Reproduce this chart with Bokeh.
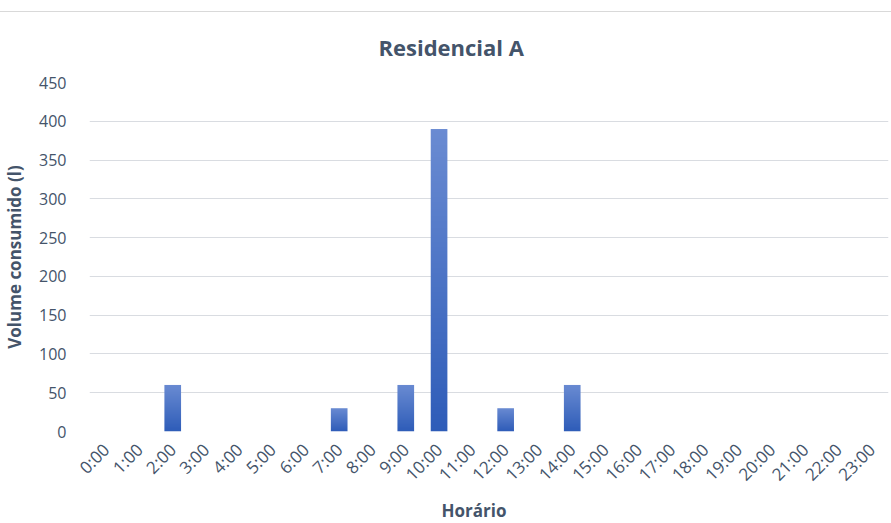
from math import pi

import numpy as np
from bokeh.embed import file_html
from bokeh.models import FactorRange, Range1d, FixedTicker, Title
from bokeh.plotting import figure
from bokeh.resources import INLINE

# Hourly water consumption, residence A
hours = [f"{h}:00" for h in range(24)]
volumes = [0, 0, 60, 0, 0, 0, 0, 30, 0, 60, 390, 0, 30, 0, 60,
           0, 0, 0, 0, 0, 0, 0, 0, 0]
y_ticks = [0, 50, 100, 150, 200, 250, 300, 350, 400, 450]

TEXT = "#44546A"
GRID = "#D9DCE1"
FONT = "Open Sans"
BAR_WIDTH = 0.5

p = figure(
    width=891, height=511,
    x_range=FactorRange(*hours, range_padding=0),
    y_range=Range1d(0, 450),
    output_backend="svg", toolbar_location=None,
    min_border_left=85, min_border_right=3, min_border_top=70, min_border_bottom=92,
    styles={"border-top": "1px solid #D9D9D9", "margin-top": "11px"},
)

# Vertical gradient (dark at the base, light at the top) as a one-pixel-wide
# RGBA image, stretched over each bar's extent
M = 128
dark = np.array([0x2E, 0x5C, 0xB8], dtype=float)
light = np.array([0x6A, 0x8B, 0xD2], dtype=float)
t = (np.arange(M) + 0.5) / M
rgb = np.round(dark[None, :] + (light - dark)[None, :] * t[:, None]).astype(np.uint32)
grad = (rgb[:, 0] | (rgb[:, 1] << 8) | (rgb[:, 2] << 16) | (255 << 24)).reshape(M, 1)

bar_idx = [i for i, v in enumerate(volumes) if v > 0]
p.image_rgba(
    image=[grad] * len(bar_idx),
    x=[i + 0.5 - BAR_WIDTH / 2 for i in bar_idx],   # factor i is centred at i + 0.5
    y=[0] * len(bar_idx),
    dw=[BAR_WIDTH] * len(bar_idx),
    dh=[volumes[i] for i in bar_idx],
)

# Title
p.title.text = "Residencial A"
p.title.align = "left"
p.title.vertical_align = "top"
p.title.text_font = FONT
p.title.text_font_size = "22px"
p.title.text_font_style = "bold"
p.title.text_color = TEXT
p.title.standoff = 38
p.title.offset = 289

# Axes
p.yaxis.ticker = FixedTicker(ticks=y_ticks)
p.yaxis.axis_label = "Volume consumido (l)"
for ax in (p.xaxis, p.yaxis):
    ax.axis_line_color = None
    ax.major_tick_line_color = None
    ax.minor_tick_line_color = None
    ax.major_label_text_font = FONT
    ax.major_label_text_font_size = "16px"
    ax.major_label_text_color = TEXT
    ax.axis_label_text_font = FONT
    ax.axis_label_text_font_size = "17px"
    ax.axis_label_text_font_style = "bold"
    ax.axis_label_text_color = TEXT
p.yaxis.major_label_standoff = 17
p.yaxis.axis_label_standoff = 10
p.xaxis.major_label_orientation = pi / 4
p.xaxis.major_label_text_font_size = "17px"
p.xaxis.major_label_standoff = 9

xlabel = Title(text="Horário", align="left", offset=352, standoff=1,
               text_font=FONT, text_font_size="17px", text_font_style="bold",
               text_color=TEXT)
p.add_layout(xlabel, "below")

p.xgrid.grid_line_color = None
p.ygrid.grid_line_color = GRID
p.ygrid.grid_line_width = 1.2
p.outline_line_color = None
p.background_fill_color = "white"
p.border_fill_color = "white"

open("out.html", "w").write(file_html(p, INLINE))
